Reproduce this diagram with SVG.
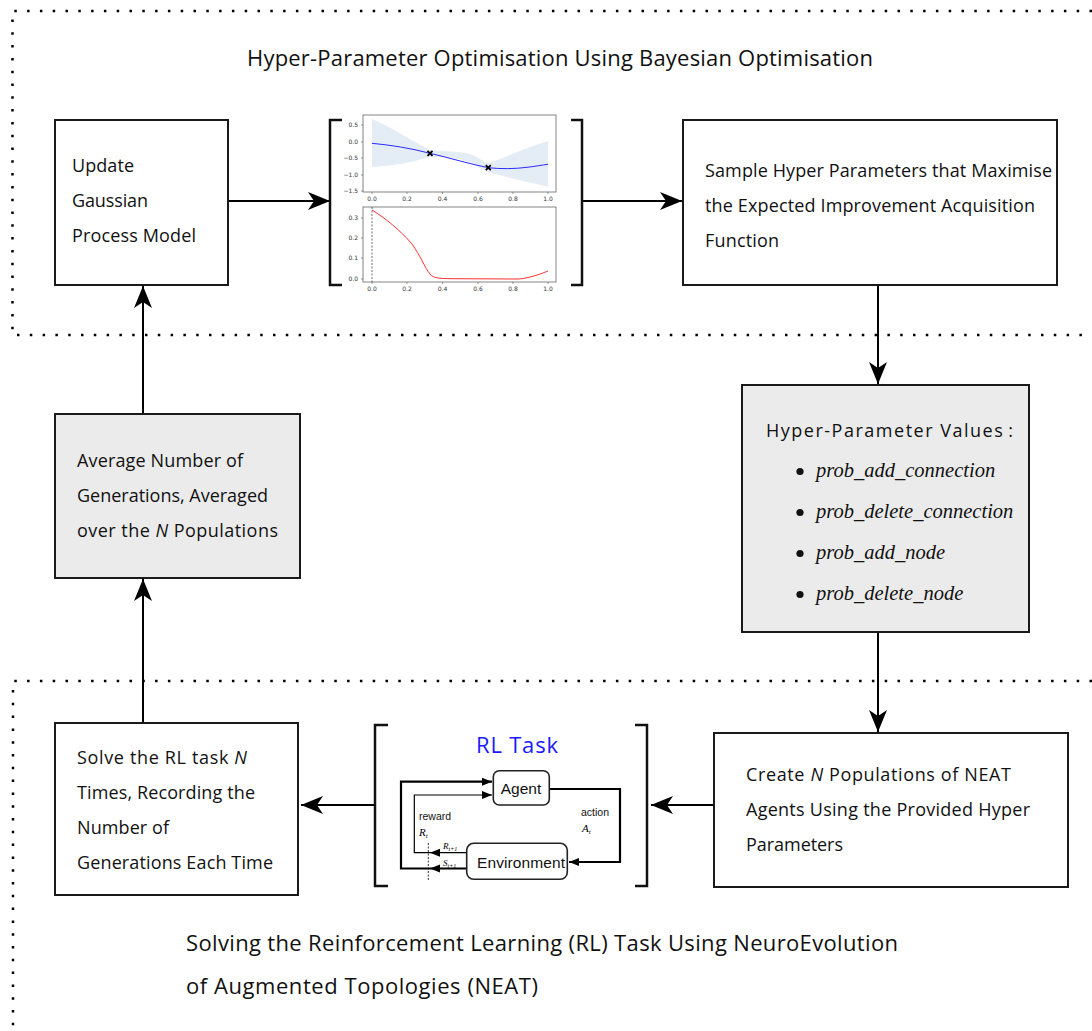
<svg xmlns="http://www.w3.org/2000/svg" width="1092" height="1031" viewBox="0 0 1092 1031">
  <style>
    .frame { fill: none; stroke: #000; stroke-width: 2.5; stroke-dasharray: 2.5 10.3; }
    .box { fill: #fff; stroke: #1a1a1a; stroke-width: 2; }
    .grey { fill: #ebebeb; }
    .txt { font-family: "Open Sans", Lato, sans-serif; font-size: 18px; fill: #111; }
    .title { font-family: "Open Sans", Lato, sans-serif; font-size: 22px; fill: #111; }
    .math { font-family: "Liberation Serif", serif; font-style: italic; font-size: 20.5px; fill: #111; }
    .it { font-style: italic; }
    .conn { fill: none; stroke: #000; stroke-width: 2; marker-end: url(#head); }
    .bracket { fill: none; stroke: #111; stroke-width: 2.5; }
    .axis { fill: none; stroke: #666; stroke-width: 0.8; }
    .tick { font-family: "DejaVu Sans", sans-serif; font-size: 6px; fill: #333; }
    .rl { font-family: "Liberation Sans", Arial, sans-serif; fill: #111; }
    .rlbox { fill: #fff; stroke: #222; stroke-width: 1.6; }
  </style>
  <defs>
    <marker id="head" viewBox="-23 -10 24 20" refX="0" refY="0" markerWidth="24" markerHeight="20" markerUnits="userSpaceOnUse" orient="auto">
      <path d="M0,0 L-22,-9 L-16,0 L-22,9 Z" fill="#000"/>
    </marker>
    <marker id="rlhead" viewBox="-10 -5 11 10" refX="0" refY="0" markerWidth="11" markerHeight="10" markerUnits="userSpaceOnUse" orient="auto">
      <path d="M0,0 L-10,-4 L-10,4 Z" fill="#000"/>
    </marker>
  </defs>

  <!-- dotted region frames -->
  <g id="frames">
    <path class="frame" d="M1092,11 H12.5 V335 H1092"/>
    <path class="frame" d="M1092,681 H13 V1031"/>
  </g>

  <text class="title" x="247" y="66" textLength="626">Hyper-Parameter Optimisation Using Bayesian Optimisation</text>
  <text class="title" x="186" y="951" textLength="712">Solving the Reinforcement Learning (RL) Task Using NeuroEvolution</text>
  <text class="title" x="186" y="994" textLength="352">of Augmented Topologies (NEAT)</text>

  <!-- connectors -->
  <g id="connectors">
    <path class="conn" d="M228,201 H330"/>
    <path class="conn" d="M583,201 H682"/>
    <path class="conn" d="M878,285 V384"/>
    <path class="conn" d="M878,632 V732"/>
    <path class="conn" d="M714,805 H651"/>
    <path class="conn" d="M374,805 H301"/>
    <path class="conn" d="M143,723 V579"/>
    <path class="conn" d="M143,414 V286"/>
  </g>

  <g id="update-gp">
    <rect class="box" x="55" y="120" width="173" height="165"/>
    <text class="txt" x="72" y="172" textLength="62">Update</text>
    <text class="txt" x="72" y="207" textLength="76">Gaussian</text>
    <text class="txt" x="72" y="242" textLength="124">Process Model</text>
  </g>

  <!-- GP posterior and acquisition function plots -->
  <g id="gp-plot">
    <path class="bracket" d="M342,120 H330 V285 H342"/>
    <path class="bracket" d="M571,120 H582 V285 H571"/>
    <!-- upper: GP mean with confidence band -->
    <rect x="363" y="115" width="193" height="77" fill="#fff" class="axis"/>
    <path d="M372,119 C390,126 410,140 430,150 C445,152 460,150 475,156 C480,159 484,162 488,163 C505,158 525,148 548,141 L548,187 C530,182 505,177 488,172 C478,168 470,160 458,159 C445,157 438,157 430,157 C410,163 390,166 372,167 Z" fill="#dfe9f5" opacity="0.85"/>
    <path d="M372,143.3 C390,145 410,148 430,153.3 C450,158 470,164 488,167.7 C500,169 515,169 527,167.3 C535,166.5 542,165 548,164.3" fill="none" stroke="#2b2bff" stroke-width="1"/>
    <path d="M427.5,150.8 L432.5,155.8 M432.5,150.8 L427.5,155.8 M485.8,165.2 L490.8,170.2 M490.8,165.2 L485.8,170.2" stroke="#000" stroke-width="1.8"/>
    <g class="tick" text-anchor="end">
      <text x="358" y="127">0.5</text>
      <text x="358" y="144">0.0</text>
      <text x="358" y="160">−0.5</text>
      <text x="358" y="177">−1.0</text>
      <text x="358" y="193">−1.5</text>
    </g>
    <path d="M361,125 H363 M361,142 H363 M361,158 H363 M361,175 H363 M361,191 H363 M372,192 V194 M407,192 V194 M442.5,192 V194 M478,192 V194 M513,192 V194 M548,192 V194" stroke="#555" stroke-width="0.6"/>
    <g class="tick" text-anchor="middle">
      <text x="372" y="201">0.0</text>
      <text x="407" y="201">0.2</text>
      <text x="442.5" y="201">0.4</text>
      <text x="478" y="201">0.6</text>
      <text x="513" y="201">0.8</text>
      <text x="548" y="201">1.0</text>
    </g>
    <!-- lower: expected improvement -->
    <rect x="363" y="207" width="193" height="75" fill="#fff" class="axis"/>
    <path d="M372,207 V282" stroke="#333" stroke-width="0.7" stroke-dasharray="2 1.5"/>
    <path d="M372,210 C385,218 400,230 412,244 C420,255 425,268 430,274 C433,278 438,278.6 453,278.7 L517,279 C522,279 526,278 530,277 C538,275 543,273 548,271" fill="none" stroke="#ff3030" stroke-width="1"/>
    <g class="tick" text-anchor="end">
      <text x="358" y="220">0.3</text>
      <text x="358" y="240">0.2</text>
      <text x="358" y="260">0.1</text>
      <text x="358" y="281">0.0</text>
    </g>
    <path d="M361,218 H363 M361,238 H363 M361,258 H363 M361,279 H363 M372,282 V284 M407,282 V284 M442.5,282 V284 M478,282 V284 M513,282 V284 M548,282 V284" stroke="#555" stroke-width="0.6"/>
    <g class="tick" text-anchor="middle">
      <text x="372" y="291">0.0</text>
      <text x="407" y="291">0.2</text>
      <text x="442.5" y="291">0.4</text>
      <text x="478" y="291">0.6</text>
      <text x="513" y="291">0.8</text>
      <text x="548" y="291">1.0</text>
    </g>
  </g>

  <g id="sample-hp">
    <rect class="box" x="683" y="120" width="374" height="165"/>
    <text class="txt" x="705" y="177" textLength="347">Sample Hyper Parameters that Maximise</text>
    <text class="txt" x="705" y="212" textLength="330">the Expected Improvement Acquisition</text>
    <text class="txt" x="705" y="247" textLength="74">Function</text>
  </g>

  <g id="hp-values">
    <rect class="box grey" x="742" y="385" width="287" height="247"/>
    <text class="txt" x="766" y="437" textLength="247">Hyper-Parameter Values<tspan dx="4">:</tspan></text>
    <circle cx="800" cy="471.5" r="3.6" fill="#111"/>
    <circle cx="800" cy="512.5" r="3.6" fill="#111"/>
    <circle cx="800" cy="553.5" r="3.6" fill="#111"/>
    <circle cx="800" cy="594.5" r="3.6" fill="#111"/>
    <text class="math" x="816" y="477">prob_add_connection</text>
    <text class="math" x="816" y="518">prob_delete_connection</text>
    <text class="math" x="816" y="559">prob_add_node</text>
    <text class="math" x="816" y="600">prob_delete_node</text>
  </g>

  <g id="average-generations">
    <rect class="box grey" x="55" y="414" width="245" height="164"/>
    <text class="txt" x="77" y="467" textLength="166">Average Number of</text>
    <text class="txt" x="77" y="502" textLength="191">Generations, Averaged</text>
    <text class="txt" x="77" y="537" textLength="201">over the <tspan class="it">N</tspan> Populations</text>
  </g>

  <g id="solve-rl">
    <rect class="box" x="55" y="723" width="243" height="172"/>
    <text class="txt" x="77" y="764" textLength="170">Solve the RL task <tspan class="it">N</tspan></text>
    <text class="txt" x="77" y="799" textLength="178">Times, Recording the</text>
    <text class="txt" x="77" y="834" textLength="92">Number of</text>
    <text class="txt" x="77" y="869" textLength="196">Generations Each Time</text>
  </g>

  <!-- agent / environment loop -->
  <g id="rl-task">
    <path class="bracket" d="M388,725 H375 V886 H388"/>
    <path class="bracket" d="M635,725 H647 V886 H635"/>
    <text x="517" y="753" text-anchor="middle" font-family="'Open Sans', Lato, sans-serif" font-size="22" fill="#1a1aff" textLength="82">RL Task</text>
    <g fill="none" stroke="#000">
      <path d="M549,789 H620 V862 H569" stroke-width="2.2" marker-end="url(#rlhead)"/>
      <path d="M466,868.5 H430" stroke-width="2.2" marker-end="url(#rlhead)"/>
      <path d="M430,868.5 H401 V781.7 H492" stroke-width="2.2" marker-end="url(#rlhead)"/>
      <path d="M466,852.7 H430" stroke-width="1.2" marker-end="url(#rlhead)"/>
      <path d="M430,852.7 H414.3 V795 H492" stroke-width="1.2" marker-end="url(#rlhead)"/>
      <path d="M428.3,843 V880" stroke-width="0.8" stroke-dasharray="2 1.5"/>
    </g>
    <rect class="rlbox" x="493.3" y="770.7" width="56" height="34.3" rx="6"/>
    <text class="rl" x="521" y="794" text-anchor="middle" font-size="15.5">Agent</text>
    <rect class="rlbox" x="466.7" y="843.3" width="100.6" height="36" rx="7"/>
    <text class="rl" x="521" y="867.5" text-anchor="middle" font-size="15.5" textLength="88">Environment</text>
    <text class="rl" x="581" y="816" font-size="10.5">action</text>
    <text x="582" y="832" font-family="Liberation Serif, serif" font-style="italic" font-size="11">A<tspan font-size="7" dy="2">t</tspan></text>
    <text class="rl" x="419" y="820" font-size="10.5">reward</text>
    <text x="419" y="836" font-family="Liberation Serif, serif" font-style="italic" font-size="11">R<tspan font-size="7" dy="2">t</tspan></text>
    <text x="443" y="849" font-family="Liberation Serif, serif" font-style="italic" font-size="9">R<tspan font-size="6" dy="1.5">t+1</tspan></text>
    <text x="443" y="866" font-family="Liberation Serif, serif" font-style="italic" font-size="9">S<tspan font-size="6" dy="1.5">t+1</tspan></text>
  </g>

  <g id="create-populations">
    <rect class="box" x="714" y="733" width="354" height="154"/>
    <text class="txt" x="746" y="781" textLength="265">Create <tspan class="it">N</tspan> Populations of NEAT</text>
    <text class="txt" x="746" y="816" textLength="284">Agents Using the Provided Hyper</text>
    <text class="txt" x="746" y="851" textLength="97">Parameters</text>
  </g>
</svg>
